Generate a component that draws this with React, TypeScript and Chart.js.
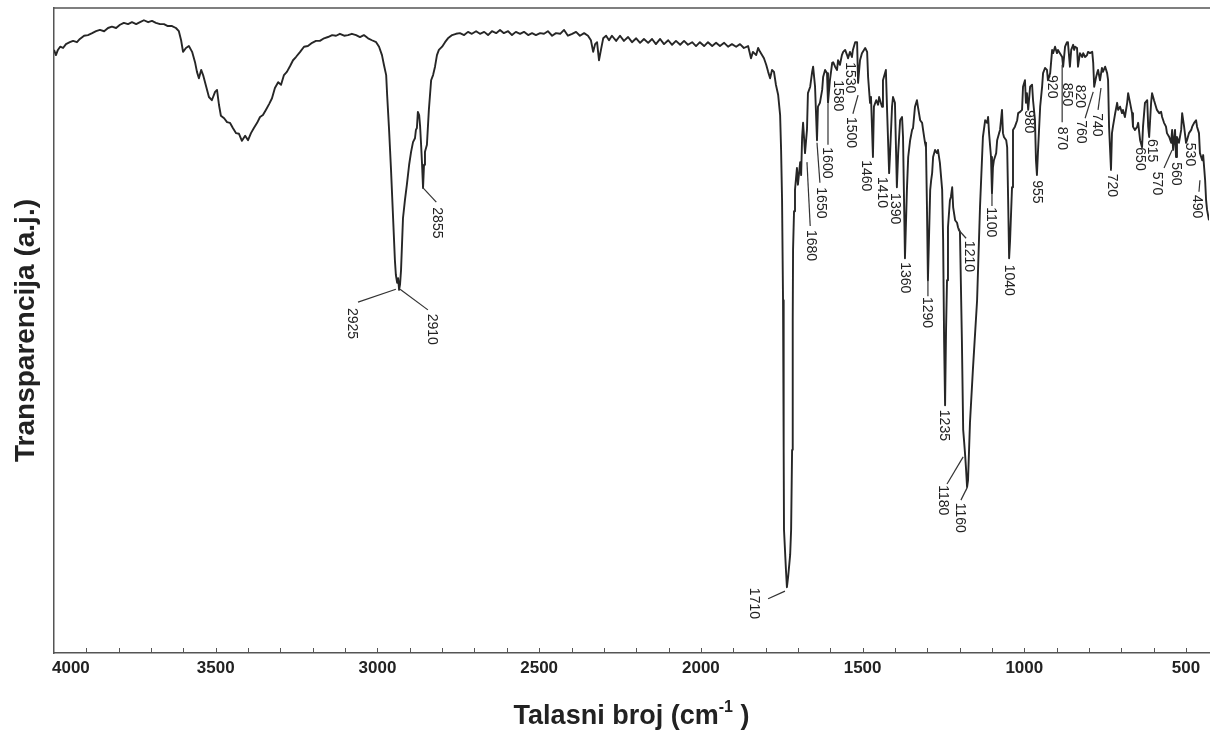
import React, { useEffect, useRef } from "react";
import { Chart, registerables } from "chart.js";

Chart.register(...registerables);

// IR spectrum, wavenumber (cm-1) and transparency (a.j., 0-100)
const wavenumber = [
  4000, 3994, 3988, 3981, 3972, 3963, 3951, 3941, 3929, 3920, 3907, 3895, 3882, 3870, 3858, 3845, 3833, 3821, 3808, 3796,
  3784, 3771, 3759, 3746, 3734, 3722, 3709, 3697, 3685, 3672, 3660, 3648, 3635, 3623, 3614, 3607, 3601, 3592, 3583, 3573,
  3564, 3558, 3552, 3545, 3539, 3530, 3521, 3512, 3502, 3496, 3490, 3484, 3474, 3465, 3456, 3447, 3437, 3428, 3419, 3409,
  3400, 3391, 3382, 3372, 3363, 3354, 3345, 3335, 3326, 3317, 3307, 3298, 3289, 3280, 3270, 3261, 3252, 3239, 3227, 3215,
  3202, 3190, 3178, 3165, 3153, 3140, 3128, 3116, 3103, 3091, 3079, 3066, 3054, 3042, 3029, 3017, 3004, 2995, 2986, 2980,
  2973, 2970, 2964, 2958, 2952, 2946, 2943, 2939, 2936, 2933, 2930, 2927, 2921, 2915, 2909, 2902, 2896, 2890, 2884, 2881,
  2878, 2875, 2871, 2868, 2865, 2862, 2859, 2856, 2853, 2847, 2841, 2834, 2828, 2822, 2816, 2810, 2800, 2791, 2782, 2769,
  2757, 2745, 2732, 2720, 2708, 2695, 2683, 2670, 2658, 2646, 2633, 2621, 2609, 2596, 2584, 2572, 2559, 2547, 2534, 2522,
  2510, 2497, 2485, 2473, 2460, 2448, 2435, 2423, 2411, 2398, 2386, 2374, 2361, 2349, 2340, 2333, 2327, 2321, 2315, 2309,
  2302, 2293, 2284, 2275, 2262, 2250, 2238, 2225, 2213, 2200, 2188, 2176, 2163, 2151, 2139, 2126, 2114, 2101, 2089, 2077,
  2064, 2052, 2040, 2027, 2015, 2003, 1990, 1978, 1965, 1953, 1941, 1928, 1916, 1904, 1891, 1879, 1867, 1854, 1845, 1839,
  1829, 1823, 1817, 1811, 1805, 1798, 1792, 1786, 1780, 1774, 1768, 1761, 1755, 1752, 1749, 1746, 1744, 1743, 1737, 1734,
  1730, 1724, 1721, 1718, 1716, 1715, 1712, 1709, 1703, 1700, 1693, 1690, 1687, 1684, 1678, 1672, 1669, 1662, 1656, 1653,
  1647, 1641, 1638, 1632, 1625, 1622, 1616, 1610, 1607, 1601, 1594, 1591, 1585, 1579, 1576, 1570, 1564, 1560, 1554, 1548,
  1545, 1539, 1533, 1530, 1523, 1517, 1514, 1508, 1502, 1492, 1486, 1483, 1477, 1474, 1468, 1465, 1458, 1452, 1449, 1440,
  1437, 1428, 1424, 1418, 1415, 1409, 1406, 1400, 1394, 1390, 1384, 1378, 1375, 1369, 1363, 1359, 1353, 1347, 1344, 1338,
  1332, 1329, 1322, 1316, 1313, 1307, 1304, 1301, 1298, 1291, 1288, 1285, 1282, 1276, 1270, 1267, 1261, 1254, 1251, 1248,
  1245, 1242, 1239, 1236, 1230, 1227, 1223, 1220, 1214, 1208, 1205, 1199, 1193, 1189, 1186, 1183, 1180, 1177, 1174, 1168,
  1159, 1146, 1137, 1128, 1121, 1115, 1112, 1109, 1103, 1100, 1097, 1094, 1087, 1084, 1078, 1075, 1069, 1066, 1063, 1056,
  1053, 1050, 1047, 1044, 1038, 1035, 1029, 1022, 1019, 1013, 1007, 1004, 998, 995, 992, 988, 982, 976, 973, 967,
  964, 961, 958, 951, 945, 942, 936, 930, 927, 920, 914, 911, 905, 899, 896, 890, 883, 880, 874, 868,
  865, 859, 855, 849, 846, 843, 837, 834, 828, 821, 818, 812, 806, 803, 797, 790, 787, 784, 778, 775,
  772, 766, 760, 757, 750, 744, 741, 738, 732, 729, 726, 719, 713, 710, 704, 698, 695, 689, 682, 679,
  673, 667, 664, 658, 651, 648, 642, 636, 633, 627, 620, 617, 614, 608, 605, 599, 593, 590, 583, 577,
  574, 568, 562, 559, 552, 546, 543, 540, 534, 531, 528, 522, 515, 512, 506, 500, 497, 491, 484, 481,
  475, 469, 466, 460, 457, 450, 447, 441, 438, 435, 429,
];

const transparency = [
  93.5, 92.7, 93.5, 94.0, 93.8, 94.4, 94.7, 94.9, 94.7, 95.2, 95.7, 95.8, 96.1, 96.4, 96.6, 96.4, 96.9, 97.1, 96.9, 97.4,
  97.7, 97.5, 97.8, 97.5, 97.8, 98.1, 97.8, 98.0, 97.7, 97.5, 97.5, 97.2, 97.2, 96.9, 96.4, 95.0, 93.2, 93.8, 94.1, 93.2,
  91.6, 90.1, 89.1, 90.4, 89.6, 87.9, 86.2, 85.7, 87.0, 87.3, 85.0, 83.3, 82.9, 82.3, 82.2, 81.4, 80.6, 80.5, 79.4, 80.2,
  79.5, 80.6, 81.4, 82.2, 83.1, 83.4, 84.2, 85.1, 86.0, 87.6, 88.5, 88.1, 89.6, 90.1, 91.0, 91.9, 92.4, 93.2, 94.0, 94.1,
  94.6, 94.9, 94.9, 95.3, 95.5, 95.8, 95.7, 96.0, 95.7, 95.8, 96.0, 95.8, 95.5, 95.8, 95.3, 95.0, 94.7, 94.0, 92.7, 91.2,
  89.6, 86.5, 81.1, 74.9, 67.9, 60.9, 58.6, 57.4, 58.1, 56.3, 57.2, 59.4, 67.4, 70.2, 72.6, 75.7, 77.7, 79.2, 79.8, 81.1,
  81.4, 83.9, 83.4, 81.6, 78.8, 75.7, 72.1, 75.7, 77.7, 78.8, 84.2, 88.8, 89.6, 90.9, 92.7, 93.5, 94.0, 94.7, 95.3, 95.8,
  96.0, 96.1, 95.8, 96.3, 96.0, 96.4, 96.0, 96.3, 95.8, 96.4, 96.1, 96.6, 96.1, 96.4, 95.8, 96.3, 96.0, 96.3, 95.8, 96.1,
  95.8, 96.1, 96.0, 96.4, 95.7, 96.1, 96.0, 96.6, 95.7, 96.0, 96.3, 95.7, 96.1, 95.7, 95.0, 93.2, 94.4, 94.7, 91.9, 93.5,
  95.3, 95.7, 95.0, 95.7, 94.9, 95.7, 94.9, 95.5, 94.7, 95.3, 94.6, 95.2, 94.6, 95.2, 94.4, 95.2, 94.4, 95.0, 94.3, 94.9,
  94.3, 94.9, 94.3, 94.7, 94.1, 94.7, 94.1, 94.7, 94.1, 94.6, 94.1, 94.6, 94.0, 94.4, 94.0, 94.4, 93.8, 94.1, 92.2, 93.2,
  92.7, 93.8, 93.2, 92.7, 92.2, 91.2, 90.1, 89.1, 90.4, 90.1, 88.1, 86.5, 83.4, 78.0, 70.2, 54.7, 31.5, 19.1, 12.9, 10.2,
  11.9, 15.2, 19.1, 31.5, 51.6, 62.5, 68.5, 71.8, 75.2, 72.6, 76.1, 74.1, 80.0, 82.2, 77.5, 81.1, 86.8, 87.8, 90.1, 90.9,
  87.8, 79.5, 84.7, 85.3, 87.3, 89.3, 90.4, 89.9, 85.3, 88.8, 91.5, 91.6, 90.9, 90.4, 91.9, 91.2, 92.7, 93.2, 93.5, 92.7,
  92.2, 93.2, 92.4, 93.5, 94.7, 94.7, 88.4, 91.9, 93.0, 93.8, 93.2, 89.3, 85.3, 86.2, 76.9, 84.7, 85.7, 85.0, 86.2, 84.7,
  88.8, 90.4, 83.7, 74.4, 77.5, 84.7, 86.2, 85.3, 72.2, 77.5, 82.6, 83.1, 80.0, 61.2, 71.8, 76.9, 79.5, 81.1, 81.4, 84.7,
  85.7, 84.7, 82.6, 82.2, 81.1, 79.1, 78.4, 69.1, 57.8, 71.8, 73.3, 74.4, 76.9, 78.0, 77.5, 78.0, 76.0, 71.8, 64.0, 48.5,
  38.4, 50.1, 57.8, 66.0, 70.2, 70.7, 72.2, 69.1, 67.1, 66.7, 66.0, 65.3, 48.5, 34.6, 32.7, 30.7, 28.4, 25.7, 26.8, 35.7,
  43.9, 54.7, 69.1, 80.0, 82.6, 82.2, 83.1, 80.6, 76.9, 71.3, 75.3, 76.4, 77.5, 79.5, 80.6, 81.1, 84.2, 80.6, 80.0, 79.5,
  78.4, 70.2, 61.2, 64.0, 72.2, 81.1, 81.6, 82.6, 83.7, 83.9, 84.2, 87.8, 88.8, 85.3, 86.8, 84.2, 87.8, 88.1, 85.7, 82.6,
  76.4, 74.1, 77.5, 84.7, 87.8, 89.9, 90.7, 90.4, 88.8, 89.9, 93.5, 93.0, 94.0, 93.0, 93.5, 93.0, 92.4, 90.9, 94.0, 94.7,
  94.6, 90.9, 93.5, 94.3, 93.5, 94.0, 93.8, 90.9, 93.0, 92.4, 93.0, 92.4, 92.7, 93.2, 93.0, 93.2, 91.5, 87.8, 89.3, 89.9,
  90.4, 88.8, 90.7, 90.1, 90.9, 89.9, 88.8, 81.6, 74.9, 80.6, 81.6, 83.7, 85.3, 84.2, 84.7, 83.7, 84.2, 83.1, 85.3, 86.8,
  85.3, 83.7, 81.6, 81.1, 81.6, 82.2, 79.5, 78.4, 81.6, 85.3, 85.7, 81.6, 80.0, 85.3, 86.8, 85.7, 84.7, 84.2, 83.7, 83.9,
  83.1, 82.2, 81.6, 80.6, 80.0, 79.1, 81.1, 78.0, 81.1, 76.9, 80.0, 79.1, 81.1, 83.7, 81.6, 79.1, 79.5, 80.6, 81.1, 81.6,
  82.2, 82.6, 81.6, 80.6, 77.5, 76.4, 77.2, 73.3, 70.2, 68.7, 67.1,
];

const xMajorTicks = [4000, 3500, 3000, 2500, 2000, 1500, 1000, 500];
const xAxisMin = 429;
const xAxisMax = 4000;
const xTitleMain = "Talasni broj (cm";
const xTitleSup = "-1";
const xTitleEnd = " )";
const yTitle = "Transparencija (a.j.)";

// peak labels: text, label anchor (wavenumber, transparency), optional leader line
type PeakLabel = { t: string; x: number; y: number; l?: [number, number, number, number] };
const peakLabels: PeakLabel[] = [
  { t: "2925", x: 3079, y: 53.5, l: [2943, 56.4, 3060, 54.4] },
  { t: "2910", x: 2831, y: 52.6, l: [2930, 56.4, 2844, 53.2] },
  { t: "2855", x: 2816, y: 69.1, l: [2859, 72.1, 2818, 69.9] },
  { t: "1710", x: 1836, y: 10.1, l: [1740, 9.6, 1792, 8.4] },
  { t: "1680", x: 1659, y: 65.6, l: [1672, 76.1, 1662, 66.2] },
  { t: "1650", x: 1628, y: 72.2, l: [1641, 79.1, 1632, 72.9] },
  { t: "1600", x: 1610, y: 78.4, l: [1607, 85.1, 1607, 78.8] },
  { t: "1580", x: 1576, y: 88.8 },
  { t: "1530", x: 1539, y: 91.6 },
  { t: "1500", x: 1536, y: 83.1, l: [1514, 86.5, 1530, 83.6] },
  { t: "1460", x: 1489, y: 76.4 },
  { t: "1410", x: 1440, y: 73.8 },
  { t: "1390", x: 1400, y: 71.3 },
  { t: "1360", x: 1369, y: 60.6 },
  { t: "1290", x: 1301, y: 55.2, l: [1298, 57.8, 1298, 55.3] },
  { t: "1235", x: 1248, y: 37.7 },
  { t: "1210", x: 1171, y: 63.9, l: [1205, 65.7, 1180, 64.3] },
  { t: "1180", x: 1251, y: 26.0, l: [1189, 30.4, 1239, 26.2] },
  { t: "1160", x: 1199, y: 23.3, l: [1177, 25.6, 1196, 23.7] },
  { t: "1100", x: 1103, y: 69.1, l: [1100, 71.3, 1100, 69.3] },
  { t: "1040", x: 1047, y: 60.2 },
  { t: "980", x: 985, y: 84.2 },
  { t: "955", x: 961, y: 73.3 },
  { t: "920", x: 914, y: 89.6 },
  { t: "870", x: 883, y: 81.6, l: [883, 91.2, 883, 82.3] },
  { t: "850", x: 868, y: 88.4 },
  { t: "820", x: 828, y: 88.1 },
  { t: "760", x: 824, y: 82.6, l: [787, 87.0, 812, 82.9] },
  { t: "740", x: 775, y: 83.7, l: [763, 87.6, 772, 84.2] },
  { t: "720", x: 729, y: 74.3 },
  { t: "650", x: 642, y: 78.4 },
  { t: "615", x: 605, y: 79.7 },
  { t: "570", x: 590, y: 74.6, l: [543, 78.0, 568, 75.2] },
  { t: "560", x: 531, y: 76.1 },
  { t: "530", x: 487, y: 79.1 },
  { t: "490", x: 466, y: 71.0, l: [457, 73.3, 460, 71.5] },
];

const FONT = "'Liberation Sans', Arial, Helvetica, sans-serif";

const decorPlugin = {
  id: "decor",
  afterDraw(chart: any) {
    const ctx: CanvasRenderingContext2D = chart.ctx;
    const xs = chart.scales.x;
    const ys = chart.scales.y;
    const a = chart.chartArea;
    ctx.save();
    // top frame line
    ctx.strokeStyle = "#555";
    ctx.lineWidth = 1.5;
    ctx.beginPath();
    ctx.moveTo(a.left, a.top);
    ctx.lineTo(a.right + 1, a.top);
    ctx.stroke();
    // inward tick marks every 100 cm-1
    ctx.lineWidth = 1;
    ctx.strokeStyle = "#555";
    for (let v = 3900; v >= 500; v -= 100) {
      const px = Math.round(xs.getPixelForValue(v)) + 0.5;
      ctx.beginPath();
      ctx.moveTo(px, a.bottom);
      ctx.lineTo(px, a.bottom - 5);
      ctx.stroke();
    }
    // tick labels
    ctx.fillStyle = "#222";
    ctx.font = `bold 17px ${FONT}`;
    ctx.textBaseline = "middle";
    xMajorTicks.forEach((v) => {
      const px = xs.getPixelForValue(v);
      if (v === xAxisMax) {
        ctx.textAlign = "left";
        ctx.fillText(String(v), px - 2, a.bottom + 15);
      } else {
        ctx.textAlign = "center";
        ctx.fillText(String(v), px, a.bottom + 15);
      }
    });
    // x title with superscript
    const cx = (a.left + a.right) / 2;
    ctx.font = `bold 27px ${FONT}`;
    const w1 = ctx.measureText(xTitleMain).width;
    const w3 = ctx.measureText(xTitleEnd).width;
    ctx.font = `bold 16px ${FONT}`;
    const w2 = ctx.measureText(xTitleSup).width;
    const sx = cx - (w1 + w2 + w3) / 2;
    const by = 724;
    ctx.textAlign = "left";
    ctx.textBaseline = "alphabetic";
    ctx.font = `bold 27px ${FONT}`;
    ctx.fillText(xTitleMain, sx, by);
    ctx.font = `bold 16px ${FONT}`;
    ctx.fillText(xTitleSup, sx + w1, by - 12);
    ctx.font = `bold 27px ${FONT}`;
    ctx.fillText(xTitleEnd, sx + w1 + w2, by);
    // y title
    ctx.save();
    ctx.translate(26, (a.top + a.bottom) / 2);
    ctx.rotate(-Math.PI / 2);
    ctx.textAlign = "center";
    ctx.textBaseline = "middle";
    ctx.font = `bold 28px ${FONT}`;
    ctx.fillText(yTitle, 0, 0);
    ctx.restore();
    // peak labels
    ctx.strokeStyle = "#333";
    ctx.lineWidth = 1.2;
    ctx.font = `14px ${FONT}`;
    ctx.fillStyle = "#222";
    peakLabels.forEach((p) => {
      if (p.l) {
        ctx.beginPath();
        ctx.moveTo(xs.getPixelForValue(p.l[0]), ys.getPixelForValue(p.l[1]));
        ctx.lineTo(xs.getPixelForValue(p.l[2]), ys.getPixelForValue(p.l[3]));
        ctx.stroke();
      }
      ctx.save();
      ctx.translate(xs.getPixelForValue(p.x), ys.getPixelForValue(p.y));
      ctx.rotate(Math.PI / 2);
      ctx.textAlign = "left";
      ctx.textBaseline = "middle";
      ctx.fillText(p.t, 0, 0);
      ctx.restore();
    });
    ctx.restore();
  },
};

export default function App() {
  const ref = useRef<HTMLCanvasElement | null>(null);
  useEffect(() => {
    document.body.style.margin = "0";
    const canvas = ref.current;
    if (!canvas) return;
    const points = wavenumber.map((w, i) => ({ x: w, y: transparency[i] }));
    const chart = new Chart(canvas, {
      type: "line",
      data: {
        datasets: [
          {
            data: points,
            borderColor: "#262626",
            borderWidth: 1.9,
            pointRadius: 0,
            tension: 0,
            fill: false,
            borderJoinStyle: "round",
          } as any,
        ],
      },
      options: {
        animation: false,
        responsive: false,
        maintainAspectRatio: false,
        events: [],
        layout: { padding: { top: 8, right: 1, left: 0, bottom: 0 } },
        plugins: { legend: { display: false }, tooltip: { enabled: false } },
        scales: {
          x: {
            type: "linear",
            reverse: true,
            min: xAxisMin,
            max: xAxisMax,
            grid: { display: false },
            border: { display: true, color: "#555", width: 1.5 },
            ticks: { display: false },
            afterFit: (s: any) => {
              s.height = 78;
            },
          },
          y: {
            type: "linear",
            min: 0,
            max: 100,
            grid: { display: false },
            border: { display: true, color: "#555", width: 1.5 },
            ticks: { display: false },
            afterFit: (s: any) => {
              s.width = 54;
            },
          },
        },
      },
      plugins: [decorPlugin],
    });
    return () => chart.destroy();
  }, []);
  return (
    <div style={{ width: 1210, height: 731 }}>
      <canvas ref={ref} width={1210} height={731} style={{ display: "block" }} />
    </div>
  );
}
